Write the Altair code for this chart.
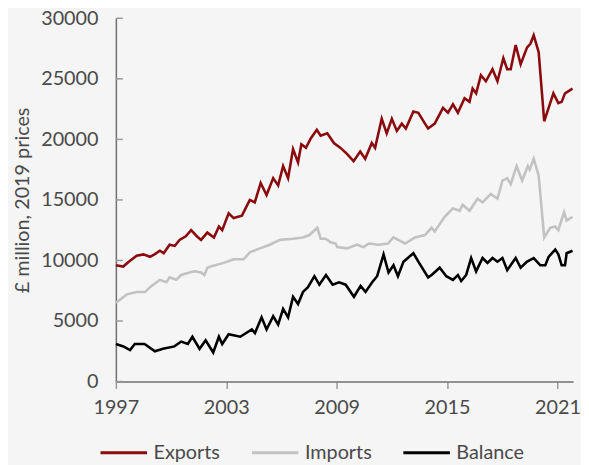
import altair as alt
import pandas as pd

# ---- data ----
series_names = ["Exports", "Imports", "Balance"]
series_colors = ["#8b0a0e", "#c2c2c2", "#000000"]

exports_t = [1997.0, 1997.4, 1997.7, 1998.13, 1998.5, 1998.85, 1999.1, 1999.39, 1999.6, 1999.92,
             2000.2, 2000.46, 2000.8, 2001.09, 2001.4, 2001.63, 2001.97, 2002.33, 2002.6, 2002.78,
             2003.13, 2003.4, 2003.85, 2004.28, 2004.55, 2004.87, 2005.19, 2005.55, 2005.82, 2006.09,
             2006.36, 2006.63, 2006.9, 2007.08, 2007.33, 2007.6, 2007.92, 2008.13, 2008.49, 2008.85,
             2009.21, 2009.56, 2009.92, 2010.28, 2010.55, 2010.91, 2011.09, 2011.45, 2011.72, 2012.0,
             2012.27, 2012.54, 2012.76, 2013.17, 2013.44, 2013.8, 2013.97, 2014.33, 2014.78, 2015.05,
             2015.32, 2015.59, 2015.95, 2016.22, 2016.39, 2016.58, 2016.84, 2017.11, 2017.47, 2017.74,
             2018.06, 2018.27, 2018.46, 2018.73, 2019.0, 2019.35, 2019.53, 2019.71, 2019.98, 2020.28,
             2020.52, 2020.78, 2021.05, 2021.23, 2021.41, 2021.82]
exports_v = [9600, 9500, 9900, 10400, 10500, 10300, 10500, 10800, 10600, 11300,
             11200, 11700, 12000, 12500, 12000, 11700, 12300, 11900, 12800, 12500,
             13900, 13500, 13700, 15000, 14800, 16400, 15400, 16800, 16200, 17800,
             16800, 19200, 18100, 19600, 19300, 20100, 20800, 20300, 20500, 19700,
             19300, 18800, 18200, 19000, 18400, 19700, 19300, 21700, 20500, 21700,
             20700, 21300, 20900, 22300, 22200, 21300, 20900, 21300, 22600, 22200,
             22900, 22200, 23400, 23100, 24200, 23800, 25300, 24800, 25800, 24800,
             26700, 25800, 25800, 27800, 26200, 27600, 27900, 28600, 27200, 21500,
             22600, 23800, 23000, 23100, 23800, 24200]

imports_t = [1997.0, 1997.6, 1998.13, 1998.58, 1998.94, 1999.39, 1999.75, 1999.92, 2000.28, 2000.55,
             2001.0, 2001.27, 2001.63, 2001.81, 2001.97, 2002.15, 2002.87, 2003.4, 2003.94, 2004.3,
             2004.83, 2005.37, 2005.91, 2006.63, 2007.17, 2007.52, 2007.95, 2008.13, 2008.4, 2008.67,
             2008.94, 2009.03, 2009.56, 2010.1, 2010.46, 2010.75, 2011.28, 2011.8, 2012.08, 2012.72,
             2013.26, 2013.8, 2014.16, 2014.33, 2014.87, 2015.32, 2015.68, 2015.85, 2016.22, 2016.66,
             2016.93, 2017.38, 2017.74, 2018.01, 2018.27, 2018.46, 2018.78, 2019.08, 2019.39, 2019.49,
             2019.71, 2019.98, 2020.28, 2020.61, 2020.88, 2021.05, 2021.36, 2021.5, 2021.82]
imports_v = [6500, 7200, 7400, 7400, 7900, 8400, 8200, 8600, 8400, 8800,
             9000, 9100, 9000, 8800, 9400, 9500, 9800, 10100, 10100, 10700,
             11000, 11300, 11700, 11800, 11900, 12100, 12700, 11800, 11800, 11500,
             11400, 11100, 11000, 11300, 11100, 11400, 11300, 11400, 11900, 11400,
             11900, 12100, 12700, 12400, 13600, 14300, 14100, 14600, 14100, 15100,
             14800, 15500, 15100, 16600, 16800, 16300, 17800, 16600, 17800, 17500,
             18400, 17000, 11900, 12700, 12800, 12500, 14000, 13300, 13600]

balance_t = [1997.0, 1997.41, 1997.77, 1998.03, 1998.56, 1999.12, 1999.56, 2000.18, 2000.55, 2000.91,
             2001.16, 2001.55, 2001.88, 2002.29, 2002.6, 2002.78, 2003.13, 2003.76, 2004.39, 2004.56,
             2004.92, 2005.19, 2005.55, 2005.82, 2006.09, 2006.36, 2006.63, 2006.9, 2007.17, 2007.44,
             2007.79, 2008.06, 2008.42, 2008.78, 2009.13, 2009.49, 2009.94, 2010.3, 2010.57, 2010.93,
             2011.2, 2011.55, 2011.82, 2012.09, 2012.33, 2012.63, 2013.17, 2013.44, 2013.97, 2014.16,
             2014.6, 2014.96, 2015.32, 2015.59, 2015.77, 2016.04, 2016.31, 2016.58, 2016.93, 2017.2,
             2017.47, 2017.74, 2018.01, 2018.27, 2018.73, 2019.0, 2019.35, 2019.71, 2020.07, 2020.34,
             2020.52, 2020.88, 2021.05, 2021.23, 2021.41, 2021.5, 2021.82]
balance_v = [3100, 2900, 2600, 3100, 3100, 2500, 2700, 2900, 3300, 3100,
             3700, 2700, 3400, 2400, 3700, 3100, 3900, 3700, 4300, 4000,
             5300, 4300, 5400, 4700, 6000, 5300, 7000, 6400, 7400, 7800,
             8700, 8000, 8800, 8000, 8200, 8000, 7000, 7900, 7400, 8200,
             8700, 10500, 9000, 9600, 8700, 9900, 10600, 9900, 8600, 8800,
             9400, 8700, 8400, 8800, 8300, 8800, 10200, 9100, 10200, 9800,
             10200, 9900, 10200, 9200, 10200, 9400, 9900, 10200, 9600, 9600,
             10300, 10900, 10500, 9600, 9600, 10600, 10800]

x_ticks = [1997, 2003, 2009, 2015, 2021]
y_ticks = [0, 5000, 10000, 15000, 20000, 25000, 30000]
y_title = "£ million, 2019 prices"

# ---- build table ----
rows = []
for name, ts, vs in [("Exports", exports_t, exports_v),
                     ("Imports", imports_t, imports_v),
                     ("Balance", balance_t, balance_v)]:
    for t, v in zip(ts, vs):
        rows.append({"series": name, "year": t, "value": v})
df = pd.DataFrame(rows)
tick_df = pd.DataFrame({"value": y_ticks})

FONT = "Lato"
TEXT = "#4a4a4a"
AXIS = "#707070"
TICK = "#9a9a9a"

x_scale = alt.Scale(domain=[1997, 2021.85], nice=False, zero=False)
y_scale = alt.Scale(domain=[0, 30000], nice=False)

y_axis = alt.Axis(values=y_ticks, format="d", title=y_title, grid=False,
                  labelFont=FONT, labelFontSize=20, labelColor=TEXT,
                  ticks=False, tickSize=0, labelPadding=18,
                  domainColor=AXIS, domainWidth=1.5,
                  titleFont=FONT, titleFontSize=20, titleFontWeight="normal",
                  titleColor=TEXT, titlePadding=8)

inner_ticks = alt.Chart(tick_df).mark_rule(color=TICK, strokeWidth=1.5).encode(
    y=alt.Y("value:Q", scale=y_scale, axis=y_axis),
    x=alt.value(0),
    x2=alt.value(7),
)

lines = alt.Chart(df).mark_line(strokeWidth=2.6).encode(
    x=alt.X("year:Q", scale=x_scale,
            axis=alt.Axis(values=x_ticks, format="d", title=None, grid=False,
                          labelFont=FONT, labelFontSize=20, labelColor=TEXT,
                          labelFlush=False,
                          tickSize=7, tickColor=TICK, tickWidth=1.5,
                          domainColor=AXIS, domainWidth=1.5, labelPadding=9)),
    y=alt.Y("value:Q", scale=y_scale, axis=y_axis),
    color=alt.Color("series:N", scale=alt.Scale(domain=series_names, range=series_colors),
                    legend=alt.Legend(orient="none", legendX=-17, legendY=414,
                                      direction="horizontal", title=None,
                                      symbolType="stroke", symbolSize=2209,
                                      symbolStrokeWidth=3, labelFont=FONT,
                                      labelFontSize=20, labelColor=TEXT,
                                      labelOffset=5, columnPadding=25)),
)

chart = alt.layer(inner_ticks, lines).properties(
    width=462,
    height=367,
    autosize=alt.AutoSizeParams(type="none"),
    padding={"left": 109, "top": 8, "right": 8, "bottom": 90},
).configure(
    background="#f5f5f5",
    font=FONT,
).configure_view(stroke=None)

chart.save("out.html", embed_options={"renderer": "svg", "actions": False})
